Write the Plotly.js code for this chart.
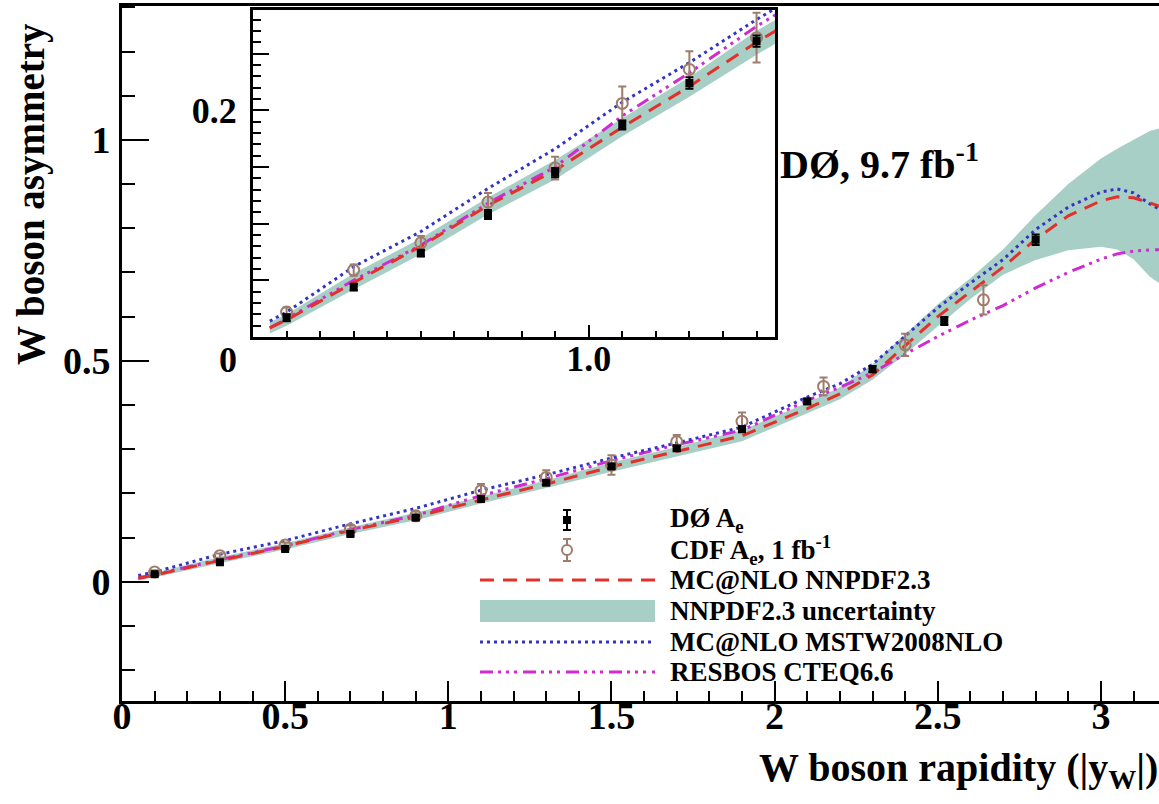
<!DOCTYPE html>
<html>
<head>
<meta charset="utf-8">
<script src="https://cdn.plot.ly/plotly-3.0.1.min.js"></script>
<style>html,body{margin:0;padding:0;background:#fff}</style>
</head>
<body>
<div id="chart" style="width:1159px;height:804px"></div>
<script>
// W boson charge asymmetry as a function of W rapidity |y_W|

// D0 measurement
const rapidityD0 = [0.1, 0.3, 0.5, 0.7, 0.9, 1.1, 1.3, 1.5, 1.7, 1.9, 2.1, 2.3, 2.52, 2.8];
const asymD0     = [0.017, 0.044, 0.074, 0.108, 0.145, 0.187, 0.224, 0.261, 0.302, 0.345, 0.408, 0.481, 0.590, 0.774];
const errD0      = [0.003, 0.003, 0.003, 0.004, 0.004, 0.004, 0.005, 0.005, 0.005, 0.006, 0.006, 0.007, 0.009, 0.012];

// CDF measurement, 1 fb^-1
const rapidityCDF = [0.1, 0.3, 0.5, 0.7, 0.9, 1.1, 1.3, 1.5, 1.7, 1.9, 2.15, 2.4, 2.64];
const asymCDF     = [0.022, 0.059, 0.083, 0.119, 0.149, 0.206, 0.236, 0.264, 0.317, 0.363, 0.442, 0.536, 0.638];
const errCDF      = [0.004, 0.005, 0.006, 0.008, 0.010, 0.015, 0.016, 0.022, 0.015, 0.020, 0.020, 0.025, 0.033];

// Theory predictions
const rapidityGrid = [0.05, 0.1, 0.3, 0.5, 0.7, 0.9, 1.1, 1.3, 1.5, 1.7, 1.9, 2.1, 2.2, 2.3, 2.4, 2.5, 2.6, 2.7, 2.8, 2.9, 3.0, 3.05, 3.1, 3.15, 3.2];
const nnpdfCentral = [0.008, 0.015, 0.048, 0.080, 0.116, 0.147, 0.185, 0.221, 0.260, 0.295, 0.330, 0.392, 0.425, 0.468, 0.535, 0.600, 0.656, 0.712, 0.775, 0.828, 0.862, 0.871, 0.869, 0.857, 0.845];
const nnpdfLow     = [0.003, 0.010, 0.042, 0.073, 0.108, 0.139, 0.177, 0.212, 0.249, 0.284, 0.318, 0.381, 0.413, 0.457, 0.515, 0.578, 0.640, 0.695, 0.728, 0.750, 0.758, 0.752, 0.730, 0.690, 0.665];
const nnpdfHigh    = [0.013, 0.020, 0.056, 0.087, 0.123, 0.156, 0.193, 0.229, 0.270, 0.305, 0.343, 0.405, 0.440, 0.492, 0.560, 0.628, 0.687, 0.752, 0.830, 0.900, 0.958, 0.980, 1.000, 1.020, 1.030];
const mstw         = [0.014, 0.022, 0.062, 0.093, 0.131, 0.166, 0.207, 0.242, 0.280, 0.314, 0.350, 0.418, 0.448, 0.492, 0.556, 0.620, 0.676, 0.729, 0.797, 0.848, 0.882, 0.889, 0.880, 0.855, 0.835];
const resbos       = [0.008, 0.016, 0.050, 0.081, 0.118, 0.150, 0.195, 0.233, 0.274, 0.310, 0.343, 0.410, 0.440, 0.473, 0.515, 0.555, 0.592, 0.625, 0.665, 0.700, 0.730, 0.742, 0.748, 0.751, 0.752];

// Legend labels
const legendLabels = [
  'DØ A<sub>e</sub>',
  'CDF A<sub>e</sub>, 1 fb<sup>-1</sup>',
  'MC@NLO NNPDF2.3',
  'NNPDF2.3 uncertainty',
  'MC@NLO MSTW2008NLO',
  'RESBOS CTEQ6.6'
];

// Inset tick labels
const insetXTicks = [1.0], insetXLabels = ['1.0'];
const insetYTicks = [0.2], insetYLabels = ['0.2'];

// Styling
const FONT = "'Liberation Serif', 'Times New Roman', serif";
const colNNPDF = '#e3302a';
const colBand = '#a7cfc5';
const colMSTW = '#3434c2';
const colRESBOS = '#d02ad0';
const colCDF = '#9e7d6d';
const dashNNPDF = '14px,9px';
const dashMSTW = '3px,4px';
const dashRESBOS = '13px,5px,3px,5px,3px,5px,3px,6px';

// Page geometry and pixel -> paper helpers
const W = 1159, H = 804;
const M = {l: 122, r: 0, t: 6, b: 103};
const plotW = W - M.l - M.r, plotH = H - M.t - M.b;
const px = x => (x - M.l) / plotW;
const py = y => (H - M.b - y) / plotH;

function theoryTraces(xa, ya) {
  const common = {x: rapidityGrid, xaxis: xa, yaxis: ya, mode: 'lines', hoverinfo: 'skip', showlegend: false};
  return [
    Object.assign({}, common, {y: nnpdfLow, line: {width: 0, color: colBand}}),
    Object.assign({}, common, {y: nnpdfHigh, line: {width: 0, color: colBand}, fill: 'tonexty', fillcolor: colBand}),
    Object.assign({}, common, {y: resbos, line: {color: colRESBOS, width: 3, dash: dashRESBOS}}),
    Object.assign({}, common, {y: mstw, line: {color: colMSTW, width: 3, dash: dashMSTW}}),
    Object.assign({}, common, {y: nnpdfCentral, line: {color: colNNPDF, width: 3, dash: dashNNPDF}})
  ];
}

function dataTraces(xa, ya) {
  return [
    {x: rapidityCDF, y: asymCDF, xaxis: xa, yaxis: ya, mode: 'markers', showlegend: false,
     marker: {symbol: 'circle-open', size: 11, color: colCDF, line: {width: 2, color: colCDF}},
     error_y: {type: 'data', array: errCDF, visible: true, color: colCDF, thickness: 2, width: 4}},
    {x: rapidityD0, y: asymD0, xaxis: xa, yaxis: ya, mode: 'markers', showlegend: false,
     marker: {symbol: 'square', size: 8, color: '#000'},
     error_y: {type: 'data', array: errD0, visible: true, color: '#000', thickness: 2, width: 4}}
  ];
}

const traces = [].concat(
  theoryTraces('x', 'y'), dataTraces('x', 'y'),
  theoryTraces('x2', 'y2'), dataTraces('x2', 'y2')
);

const tickFont = {family: FONT, size: 38, color: '#000', weight: 'bold'};
const axisBase = {showgrid: false, zeroline: false, showline: true, linecolor: '#000', linewidth: 3,
                  ticks: 'inside', tickcolor: '#000', tickwidth: 2, tickfont: tickFont};
const insetYRange = [0, 0.2884];

const layout = {
  width: W, height: H,
  margin: M,
  paper_bgcolor: '#fff', plot_bgcolor: '#fff',
  showlegend: false,
  xaxis: Object.assign({}, axisBase, {
    domain: [0, 1], anchor: 'y', range: [0, 3.178], mirror: true,
    tick0: 0, dtick: 0.5, ticklen: 20, ticklabelstandoff: -21,
    minor: {ticks: 'inside', tick0: 0, dtick: 0.1, ticklen: 10, tickwidth: 2, tickcolor: '#000'}
  }),
  yaxis: Object.assign({}, axisBase, {
    domain: [0, 1], anchor: 'x', range: [-0.27, 1.303],
    tick0: 0, dtick: 0.5, ticklen: 27, ticklabelstandoff: 1,
    minor: {ticks: 'inside', tick0: 0, dtick: 0.1, ticklen: 13, tickwidth: 2, tickcolor: '#000'}
  }),
  xaxis2: Object.assign({}, axisBase, {
    domain: [px(253), px(775)], anchor: 'y2', range: [0, 1.555], mirror: true,
    tickmode: 'array', tickvals: insetXTicks, ticktext: insetXLabels, ticklen: 12, ticklabelstandoff: -12,
    tickfont: Object.assign({}, tickFont, {size: 36}),
    minor: {ticks: 'inside', tick0: 0, dtick: 0.1, ticklen: 6, tickwidth: 2, tickcolor: '#000'}
  }),
  // inset y axis: labelled tick
  yaxis2: Object.assign({}, axisBase, {
    domain: [py(337), py(10)], anchor: 'x2', range: insetYRange, mirror: true,
    tickmode: 'array', tickvals: insetYTicks, ticktext: insetYLabels,
    ticklen: 16, ticklabelstandoff: 6,
    tickfont: Object.assign({}, tickFont, {size: 36}),
    minor: {ticks: 'inside', tick0: 0, dtick: 0.01, ticklen: 8, tickwidth: 2, tickcolor: '#000'}
  }),
  // inset y axis: long ticks every 0.05 without labels
  yaxis3: {
    overlaying: 'y2', anchor: 'x2', side: 'left', range: insetYRange,
    showgrid: false, zeroline: false, showline: false, showticklabels: false,
    ticks: 'inside', tick0: 0, dtick: 0.05, ticklen: 16, tickwidth: 2, tickcolor: '#000'
  },
  annotations: [],
  shapes: []
};

// an empty trace so the tick-only axis is drawn
traces.push({x: [], y: [], xaxis: 'x2', yaxis: 'y3', mode: 'lines', showlegend: false, hoverinfo: 'skip'});

function label(text, x, y, size, opts) {
  return Object.assign({
    text: text, xref: 'paper', yref: 'paper', x: px(x), y: py(y),
    xanchor: 'left', yanchor: 'middle', showarrow: false,
    font: {family: FONT, size: size, color: '#000', weight: 'bold'}
  }, opts || {});
}

layout.annotations.push(
  label('W boson asymmetry', 31, 194, 39, {textangle: -90, xanchor: 'center'}),
  label('W boson rapidity (|y<sub>W</sub>|)', 757, 770, 40),
  label('DØ, 9.7 fb<sup>-1</sup>', 778, 162, 40),
  label('0', 228, 360, 36, {xanchor: 'center'})
);

// Legend: keys on the left, labels on the right
const legendRows = [520, 550, 580, 611, 642, 672];
const keyX0 = 480, keyX1 = 655, keyXc = 567, textX = 668;
legendLabels.forEach((t, i) => layout.annotations.push(label(t, textX, legendRows[i], 27)));

function pshape(type, x0, y0, x1, y1, line, fill) {
  const s = {type: type, xref: 'paper', yref: 'paper', x0: px(x0), x1: px(x1), y0: py(y0), y1: py(y1),
             line: line || {width: 0}};
  if (fill) s.fillcolor = fill;
  return s;
}
// D0 key: filled square with error bar
const r0 = legendRows[0];
layout.shapes.push(
  pshape('line', keyXc, r0 - 10, keyXc, r0 + 10, {color: '#000', width: 2}),
  pshape('line', keyXc - 4, r0 - 10, keyXc + 4, r0 - 10, {color: '#000', width: 2}),
  pshape('line', keyXc - 4, r0 + 10, keyXc + 4, r0 + 10, {color: '#000', width: 2}),
  pshape('rect', keyXc - 4, r0 - 4, keyXc + 4, r0 + 4, {width: 0}, '#000')
);
// CDF key: open circle with error bar
const r1 = legendRows[1];
layout.shapes.push(
  pshape('line', keyXc, r1 - 11, keyXc, r1 - 5, {color: colCDF, width: 2}),
  pshape('line', keyXc, r1 + 5, keyXc, r1 + 11, {color: colCDF, width: 2}),
  pshape('line', keyXc - 4, r1 - 11, keyXc + 4, r1 - 11, {color: colCDF, width: 2}),
  pshape('line', keyXc - 4, r1 + 11, keyXc + 4, r1 + 11, {color: colCDF, width: 2}),
  pshape('circle', keyXc - 5, r1 - 5, keyXc + 5, r1 + 5, {color: colCDF, width: 2})
);
layout.shapes.push(
  pshape('line', keyX0, legendRows[2], keyX1, legendRows[2], {color: colNNPDF, width: 3, dash: dashNNPDF}),
  pshape('rect', keyX0, legendRows[3] - 11, keyX1, legendRows[3] + 11, {width: 0}, colBand),
  pshape('line', keyX0, legendRows[4], keyX1, legendRows[4], {color: colMSTW, width: 3, dash: dashMSTW}),
  pshape('line', keyX0, legendRows[5], keyX1, legendRows[5], {color: colRESBOS, width: 3, dash: dashRESBOS})
);

Plotly.newPlot('chart', traces, layout, {staticPlot: true, displayModeBar: false});
</script>
</body>
</html>
